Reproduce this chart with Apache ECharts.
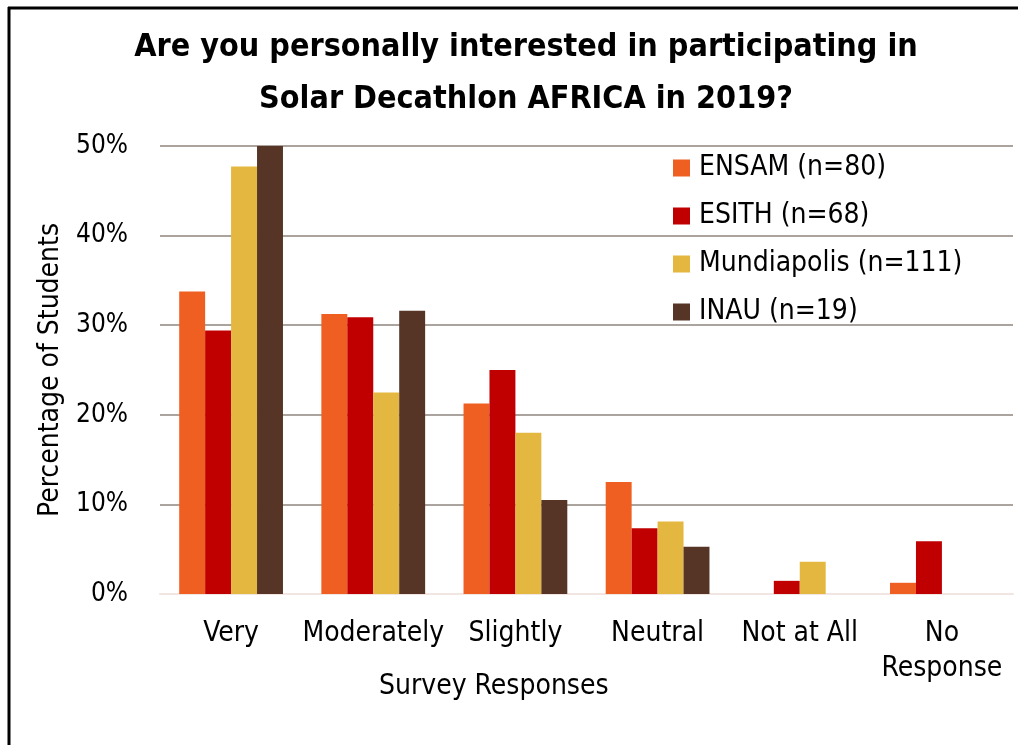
<!DOCTYPE html>
<html>
<head>
<meta charset="utf-8">
<script src="https://cdn.jsdelivr.net/npm/echarts@6/dist/echarts.min.js"></script>
<style>
  html, body { margin: 0; padding: 0; background: #fff; }
  #chart { width: 1018px; height: 745px; }
</style>
</head>
<body>
<div id="chart"></div>
<script>
// survey categories
var categories = ['Very', 'Moderately', 'Slightly', 'Neutral', 'Not at All', 'No\nResponse']
var yTicks = [0, 10, 20, 30, 40, 50]

// percentage of students per school
var ensam = [33.75, 31.25, 21.25, 12.5, 0, 1.25]
var esith = [29.4, 30.9, 25.0, 7.35, 1.47, 5.88]
var mundiapolis = [47.7, 22.5, 18.0, 8.1, 3.6, 0]
var inau = [52.6, 31.6, 10.5, 5.26, 0, 0]

var seriesNames = ['ENSAM (n=80)', 'ESITH (n=68)', 'Mundiapolis (n=111)', 'INAU (n=19)']
var seriesData = [ensam, esith, mundiapolis, inau]
var colors = ['#F05F22', '#C00000', '#E3B740', '#563527']

var font = '"DejaVu Sans Condensed", "Open Sans", sans-serif'

var myChart = echarts.init(document.getElementById('chart'))

myChart.setOption({
  animation: false,
  backgroundColor: '#fff',
  color: colors,
  title: {
    text: 'Are you personally interested in participating in\nSolar Decathlon AFRICA in 2019?',
    left: 521,
    top: 17,
    textAlign: 'center',
    textStyle: {
      fontFamily: font,
      fontWeight: 'bold',
      fontSize: 32,
      lineHeight: 52,
      color: '#000'
    }
  },
  legend: {
    orient: 'vertical',
    left: 668,
    top: 149,
    itemWidth: 17,
    itemHeight: 17,
    itemGap: 20,
    icon: 'rect',
    textStyle: {
      fontFamily: font,
      fontSize: 28,
      color: '#000',
      padding: [0, 0, 0, 4]
    },
    data: seriesNames
  },
  grid: {
    left: 160,
    right: 5,
    top: 146,
    bottom: 151,
    containLabel: false
  },
  xAxis: {
    type: 'category',
    data: categories,
    axisLine: { lineStyle: { color: '#f1e6e1', width: 2 } },
    axisTick: { show: false },
    axisLabel: {
      interval: 0,
      fontFamily: font,
      fontSize: 28,
      color: '#000',
      margin: 22,
      lineHeight: 35
    }
  },
  yAxis: {
    type: 'value',
    min: 0,
    max: 50,
    interval: 10,
    name: 'Percentage of Students',
    nameLocation: 'middle',
    nameGap: 94,
    nameTextStyle: {
      fontFamily: font,
      fontSize: 28,
      color: '#000'
    },
    axisLine: { show: false },
    axisTick: { show: false },
    splitLine: { lineStyle: { color: '#8f847e', width: 1.5 } },
    axisLabel: {
      fontFamily: font,
      fontSize: 26,
      color: '#000',
      margin: 32,
      formatter: function (v) {
        return yTicks.indexOf(v) >= 0 ? v + '%' : ''
      }
    }
  },
  graphic: [
    {
      type: 'text',
      left: 379,
      top: 673,
      style: {
        text: 'Survey Responses',
        fontFamily: font,
        fontSize: 28,
        fill: '#000'
      }
    },
    {
      type: 'line',
      shape: { x1: 8, y1: 8, x2: 1018, y2: 8 },
      style: { stroke: '#000', lineWidth: 3 }
    },
    {
      type: 'line',
      shape: { x1: 9, y1: 7, x2: 9, y2: 745 },
      style: { stroke: '#000', lineWidth: 3 }
    }
  ],
  series: seriesData.map(function (d, i) {
    return {
      name: seriesNames[i],
      type: 'bar',
      data: d,
      clip: true,
      barGap: '0%',
      barCategoryGap: '27%'
    }
  })
})
</script>
</body>
</html>
